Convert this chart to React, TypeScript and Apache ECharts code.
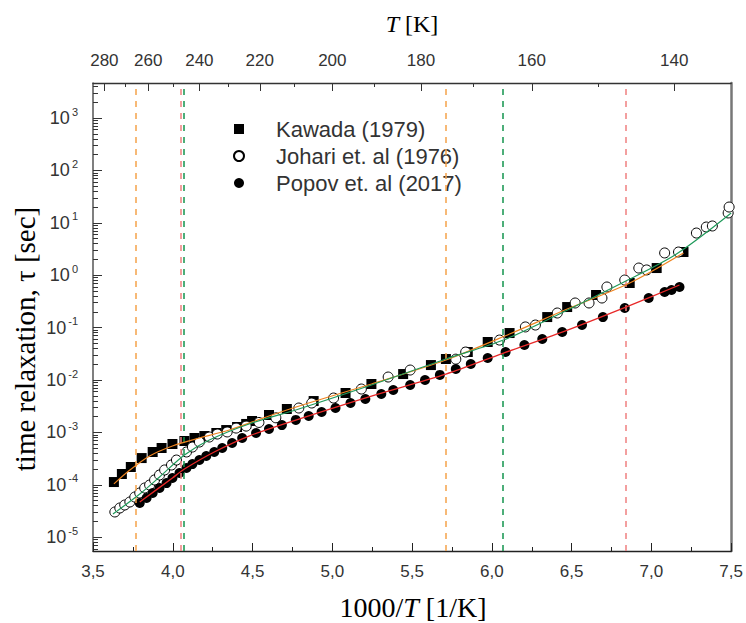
import React, { useEffect, useRef } from "react";
import * as echarts from "echarts";

// ---- data ----
const kawadaX = [3.631, 3.681, 3.737, 3.805, 3.874, 3.93, 3.998, 4.073, 4.136, 4.198, 4.273, 4.335, 4.403, 4.46, 4.497, 4.603, 4.715, 4.883, 5.083, 5.245, 5.444, 5.618, 5.712, 5.849, 5.974, 6.111, 6.347, 6.472, 6.653, 6.864, 7.033, 7.201];
const kawadaTau = [1.13e-4, 1.61e-4, 2.19e-4, 3.24e-4, 4.23e-4, 5.04e-4, 6.01e-4, 6.86e-4, 7.82e-4, 8.53e-4, 9.75e-4, 1.11e-3, 1.27e-3, 1.45e-3, 1.65e-3, 2.15e-3, 2.8e-3, 3.97e-3, 5.65e-3, 8.39e-3, 1.3e-2, 1.93e-2, 2.52e-2, 3.42e-2, 5.31e-2, 7.88e-2, 0.159, 0.247, 0.419, 0.71, 1.37, 2.77];

const johariX = [3.637, 3.668, 3.699, 3.731, 3.762, 3.793, 3.824, 3.855, 3.886, 3.917, 3.949, 3.992, 4.023, 4.086, 4.123, 4.167, 4.229, 4.279, 4.341, 4.397, 4.46, 4.54, 4.646, 4.79, 4.871, 5.008, 5.182, 5.35, 5.488, 5.774, 5.836, 6.048, 6.21, 6.273, 6.41, 6.522, 6.609, 6.69, 6.721, 6.833, 6.921, 6.97, 7.083, 7.17, 7.282, 7.344, 7.382, 7.481, 7.487];
const johariTau = [3.03e-5, 3.61e-5, 4.12e-5, 4.7e-5, 5.85e-5, 6.98e-5, 8.69e-5, 9.91e-5, 1.24e-4, 1.54e-4, 1.92e-4, 2.39e-4, 2.97e-4, 4.23e-4, 5.26e-4, 6.56e-4, 8.17e-4, 9.31e-4, 1.02e-3, 1.21e-3, 1.32e-3, 1.55e-3, 1.9e-3, 2.92e-3, 3.64e-3, 4.53e-3, 6.73e-3, 1.14e-2, 1.55e-2, 2.5e-2, 3.42e-2, 5.79e-2, 0.103, 0.112, 0.19, 0.295, 0.295, 0.367, 0.596, 0.81, 1.37, 1.26, 2.66, 2.77, 6.38, 8.31, 8.7, 15.4, 20.0];

const popovX = [3.793, 3.836, 3.874, 3.917, 3.961, 3.998, 4.042, 4.086, 4.123, 4.167, 4.21, 4.26, 4.31, 4.372, 4.435, 4.522, 4.603, 4.684, 4.771, 4.852, 4.933, 5.02, 5.114, 5.207, 5.307, 5.382, 5.488, 5.581, 5.674, 5.774, 5.868, 5.974, 6.086, 6.204, 6.316, 6.441, 6.565, 6.696, 6.833, 6.983, 7.083, 7.126, 7.176];
const popovTau = [4.5e-5, 5.6e-5, 6.98e-5, 8.69e-5, 1.08e-4, 1.35e-4, 1.68e-4, 2.09e-4, 2.49e-4, 2.97e-4, 3.55e-4, 4.23e-4, 5.04e-4, 6.28e-4, 7.82e-4, 9.75e-4, 1.16e-3, 1.38e-3, 1.73e-3, 2.06e-3, 2.45e-3, 2.92e-3, 3.64e-3, 4.34e-3, 5.41e-3, 6.44e-3, 8.03e-3, 1.0e-2, 1.25e-2, 1.62e-2, 2.02e-2, 2.63e-2, 3.42e-2, 4.66e-2, 6.06e-2, 8.23e-2, 0.112, 0.159, 0.237, 0.367, 0.478, 0.522, 0.596];

// fit curves
const kawadaFitX = [3.631, 3.731, 3.855, 3.998, 4.167, 4.354, 4.603, 4.852, 5.245, 5.712, 6.111, 6.472, 6.864, 7.201];
const kawadaFitTau = [1.04e-4, 1.91e-4, 3.55e-4, 5.5e-4, 7.82e-4, 1.11e-3, 2.06e-3, 3.64e-3, 8.39e-3, 2.41e-2, 7.55e-2, 0.226, 0.71, 2.66];
const johariFitX = [3.625, 3.793, 3.917, 4.073, 4.229, 4.478, 4.79, 5.245, 5.712, 6.073, 6.41, 6.84, 7.157, 7.5];
const johariFitTau = [2.77e-5, 6.67e-5, 1.41e-4, 3.71e-4, 7.16e-4, 1.45e-3, 2.8e-3, 8.03e-3, 2.52e-2, 5.79e-2, 0.174, 0.774, 2.54, 15.4];
const popovFitX = [3.793, 3.998, 4.073, 4.26, 4.478, 4.79, 5.245, 5.712, 6.073, 6.441, 6.84, 7.176];
const popovFitTau = [4.7e-5, 1.35e-4, 2.0e-4, 4.23e-4, 8.53e-4, 1.8e-3, 4.95e-3, 1.3e-2, 3.27e-2, 8.23e-2, 0.247, 0.65];

// vertical dashed marker lines (1000/T)
const markX = [3.774, 4.048, 4.073, 5.712, 6.073, 6.84];
const markColors = ["#f5a24a", "#f08080", "#13944e", "#f5a24a", "#13944e", "#f08080"];

// tick labels
const yExponents = [-5, -4, -3, -2, -1, 0, 1, 2, 3];
const topMajorT = [280, 260, 240, 220, 200, 180, 160, 140];
const topMinorT = [270, 250, 230, 210, 190, 170, 150];

const legendNames = ["Kawada (1979)", "Johari et. al (1976)", "Popov et. al (2017)"];

const X_MIN = 3.5;
const X_MAX = 7.5;
const Y_MIN = Math.pow(10, -5.263);
const Y_MAX = Math.pow(10, 3.668);

const zip = (xs: number[], ys: number[]) => xs.map((x, i) => [x, ys[i]]);

const SANS = "Liberation Sans, Arial, sans-serif";
const SERIF = "Liberation Serif, Times New Roman, serif";

export default function App() {
  const ref = useRef<HTMLDivElement>(null);
  useEffect(() => {
    if (!ref.current) return;
    const chart = echarts.init(ref.current, undefined, { renderer: "svg" });

    const yMajor = yExponents.map((e) => Math.pow(10, e));
    const yMinor: number[] = [];
    for (let e = -6; e <= 3; e++) {
      for (let k = 2; k <= 9; k++) {
        const v = k * Math.pow(10, e);
        if (v > Y_MIN && v < Y_MAX) yMinor.push(v);
      }
    }
    const topMajor = topMajorT.map((t) => 1000 / t);
    const topMinor = topMinorT.map((t) => 1000 / t);

    const axisColor = "#333";
    const labelStyle = { fontFamily: SANS, fontSize: 17, color: "#333" };

    const option: any = {
      animation: false,
      backgroundColor: "#fff",
      grid: { left: 93, right: 11, top: 83, bottom: 72, containLabel: false },
      legend: {
        data: legendNames,
        orient: "vertical",
        left: 228,
        top: 113,
        itemWidth: 10,
        itemHeight: 10,
        itemGap: 5,
        textStyle: { fontFamily: SANS, fontSize: 22, lineHeight: 22, color: "#333", padding: [0, 0, 0, 27] },
      },
      xAxis: [
        {
          type: "value",
          position: "bottom",
          min: X_MIN,
          max: X_MAX,
          interval: 0.5,
          axisLine: { lineStyle: { color: "#222", width: 1.3 } },
          axisTick: { inside: true, length: 8, lineStyle: { color: "#222" } },
          minorTick: { show: true, splitNumber: 2, length: 4, lineStyle: { color: "#222" } },
          splitLine: { show: false },
          axisLabel: { ...labelStyle, margin: 12, formatter: (v: number) => v.toFixed(1).replace(".", ",") },
        },
        {
          type: "value",
          position: "top",
          min: X_MIN,
          max: X_MAX,
          axisLine: { lineStyle: { color: axisColor, width: 1.3 } },
          axisTick: { inside: true, length: 8, customValues: topMajor, lineStyle: { color: axisColor } },
          splitLine: { show: false },
          axisLabel: { ...labelStyle, margin: 14, customValues: topMajor, formatter: (v: number) => String(Math.round(1000 / v)) },
        },
        {
          type: "value",
          position: "top",
          min: X_MIN,
          max: X_MAX,
          axisLine: { show: false },
          axisTick: { inside: true, length: 4, customValues: topMinor, lineStyle: { color: axisColor } },
          splitLine: { show: false },
          axisLabel: { show: false },
        },
      ],
      yAxis: [
        {
          type: "log",
          position: "left",
          min: Y_MIN,
          max: Y_MAX,
          axisLine: { show: true, lineStyle: { color: "#555", width: 1.5 } },
          axisTick: { inside: true, length: 9, customValues: yMajor, lineStyle: { color: "#333" } },
          splitLine: { show: false },
          axisLabel: {
            customValues: yMajor,
            margin: 15,
            formatter: (v: number) => `{b|10}{s|${Math.round(Math.log10(v))}}`,
            rich: {
              b: { fontFamily: SANS, fontSize: 18, color: "#333", lineHeight: 24 },
              s: { fontFamily: SANS, fontSize: 11, color: "#333", lineHeight: 12, verticalAlign: "top", padding: [0, 0, 0, 2] },
            },
          },
        },
        {
          type: "log",
          position: "left",
          min: Y_MIN,
          max: Y_MAX,
          axisLine: { show: false },
          axisTick: { inside: true, length: 5, customValues: yMinor, lineStyle: { color: "#333" } },
          splitLine: { show: false },
          axisLabel: { show: false },
        },
        {
          type: "log",
          position: "right",
          min: Y_MIN,
          max: Y_MAX,
          axisLine: { show: true, lineStyle: { color: "#777", width: 2.5 } },
          axisTick: { show: false },
          splitLine: { show: false },
          axisLabel: { show: false },
        },
      ],
      graphic: [
        {
          type: "text",
          x: 25,
          y: 339,
          rotation: Math.PI / 2,
          style: {
            text: "time relaxation, τ [sec]",
            font: `29px ${SERIF}`,
            fill: "#000",
            align: "center",
            verticalAlign: "middle",
          },
        },
        {
          type: "text",
          x: 413,
          y: 607,
          style: {
            text: "{a|1000/}{i|T}{a| [1/K]}",
            align: "center",
            verticalAlign: "middle",
            rich: {
              a: { fontFamily: SERIF, fontSize: 28, fill: "#000" },
              i: { fontFamily: SERIF, fontSize: 28, fontStyle: "italic", fill: "#000" },
            },
          },
        },
        {
          type: "text",
          x: 412,
          y: 24,
          style: {
            text: "{i|T}{a| [K]}",
            align: "center",
            verticalAlign: "middle",
            rich: {
              a: { fontFamily: SERIF, fontSize: 24, fill: "#000" },
              i: { fontFamily: SERIF, fontSize: 24, fontStyle: "italic", fill: "#000" },
            },
          },
        },
      ],
      series: [
        {
          name: "markers",
          type: "line",
          data: [],
          z: 1,
          markLine: {
            silent: true,
            symbol: ["none", "none"],
            label: { show: false },
            data: markX.map((x, i) => ({ xAxis: x, lineStyle: { color: markColors[i], type: [6, 6], width: 1.5 } })),
          },
        },
        {
          name: legendNames[0],
          type: "scatter",
          symbol: "rect",
          symbolSize: 10,
          itemStyle: { color: "#000", opacity: 1 },
          data: zip(kawadaX, kawadaTau),
          z: 2,
        },
        {
          name: legendNames[1],
          type: "scatter",
          symbol: "circle",
          symbolSize: 10,
          itemStyle: { color: "#fff", borderColor: "#000", borderWidth: 1, opacity: 1 },
          data: zip(johariX, johariTau),
          z: 3,
        },
        {
          name: legendNames[2],
          type: "scatter",
          symbol: "circle",
          symbolSize: 10,
          itemStyle: { color: "#000", opacity: 1 },
          data: zip(popovX, popovTau),
          z: 4,
        },
        {
          name: "fitKawada",
          type: "line",
          showSymbol: false,
          smooth: 0.3,
          lineStyle: { color: "#ee8420", width: 1.2 },
          data: zip(kawadaFitX, kawadaFitTau),
          z: 5,
        },
        {
          name: "fitJohari",
          type: "line",
          showSymbol: false,
          smooth: 0.3,
          lineStyle: { color: "#1f9a5a", width: 1.2 },
          data: zip(johariFitX, johariFitTau),
          z: 5,
        },
        {
          name: "fitPopov",
          type: "line",
          showSymbol: false,
          smooth: 0.3,
          lineStyle: { color: "#e82828", width: 1.3 },
          data: zip(popovFitX, popovFitTau),
          z: 5,
        },
      ],
    };

    chart.setOption(option);
    return () => chart.dispose();
  }, []);

  return (
    <div
      ref={ref}
      style={{ position: "fixed", left: 0, top: 0, width: 746, height: 623, background: "#fff" }}
    />
  );
}
